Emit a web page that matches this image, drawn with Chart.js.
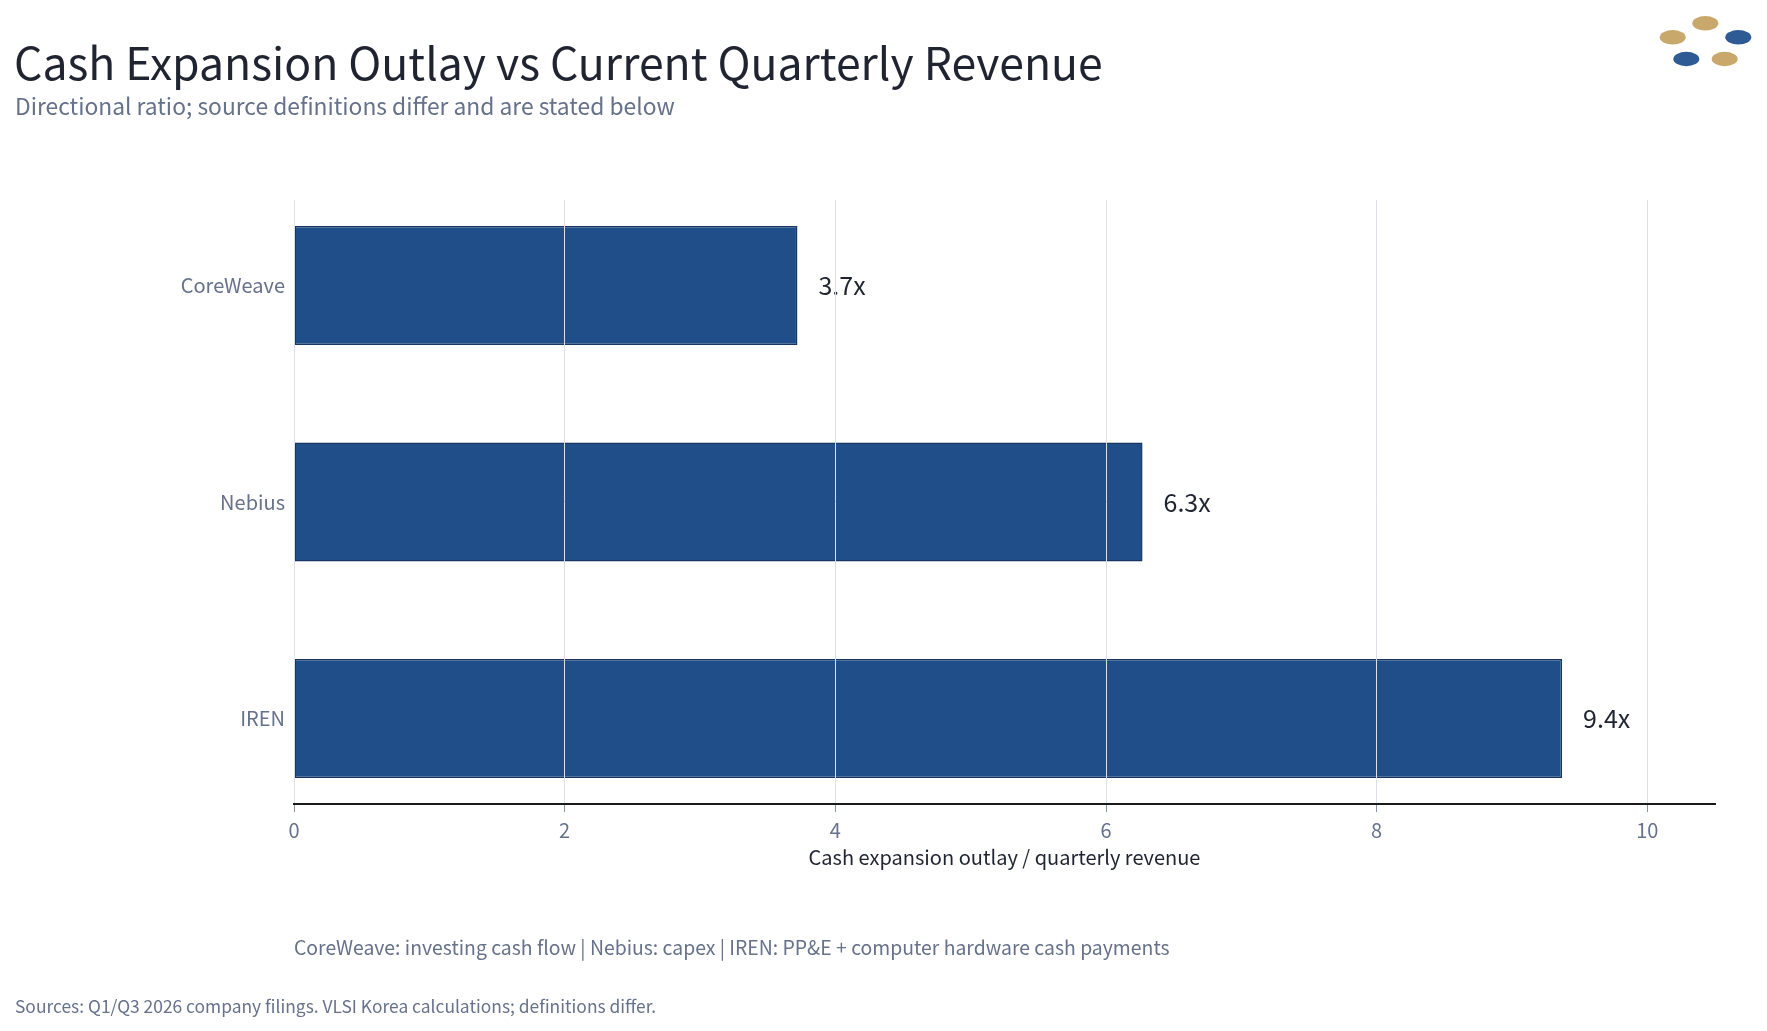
<!DOCTYPE html>
<html>
<head>
<meta charset="utf-8">
<script src="https://cdn.jsdelivr.net/npm/chart.js@4"></script>
<style>
  html, body { margin: 0; padding: 0; background: #ffffff; }
  #wrap { position: relative; width: 1767px; height: 1031px; overflow: hidden; font-family: "Noto Sans CJK KR", "Noto Sans", sans-serif; }
  #c { position: absolute; left: 0; top: 0; }
  .t { position: absolute; white-space: nowrap; line-height: 1; }
  #title { left: 14px; top: 39px; font-size: 44.5px; color: #1f2430; }
  #subtitle { left: 15px; top: 95px; font-size: 22.8px; color: #66718a; }
  #note { left: 294px; top: 937px; font-size: 19.4px; color: #66718a; }
  #src { left: 15px; top: 997px; font-size: 17.4px; color: #66718a; }
  #logo { position: absolute; left: 1640px; top: 0; }
</style>
</head>
<body>
<div id="wrap">
  <canvas id="c" width="1767" height="1031"></canvas>
  <div class="t" id="title">Cash Expansion Outlay vs Current Quarterly Revenue</div>
  <div class="t" id="subtitle">Directional ratio; source definitions differ and are stated below</div>
  <div class="t" id="note">CoreWeave: investing cash flow | Nebius: capex | IREN: PP&amp;E + computer hardware cash payments</div>
  <div class="t" id="src">Sources: Q1/Q3 2026 company filings. VLSI Korea calculations; definitions differ.</div>
  <svg id="logo" width="127" height="80" viewBox="0 0 127 80">
    <ellipse cx="65.3" cy="23.3" rx="13" ry="7.2" fill="#c9a96b"/>
    <ellipse cx="32.7" cy="37.3" rx="13" ry="7.2" fill="#c9a96b"/>
    <ellipse cx="98.3" cy="37.3" rx="13" ry="7.2" fill="#2f5b94"/>
    <ellipse cx="46.3" cy="59" rx="13" ry="7.2" fill="#2f5b94"/>
    <ellipse cx="84.7" cy="59" rx="13" ry="7.2" fill="#c9a96b"/>
  </svg>
</div>
<script>
const categories = ["CoreWeave", "Nebius", "IREN"];
const ratios = [3.72, 6.27, 9.37];
const xTicks = [0, 2, 4, 6, 8, 10];
const xAxisTitle = "Cash expansion outlay / quarterly revenue";

const FONT = '"Noto Sans CJK KR", "Noto Sans", sans-serif';

const valueLabels = {
  id: 'valueLabels',
  afterDatasetsDraw(chart) {
    const ctx = chart.ctx;
    const meta = chart.getDatasetMeta(0);
    ctx.save();
    ctx.font = '25px ' + FONT;
    ctx.fillStyle = '#1f2430';
    ctx.textAlign = 'left';
    ctx.textBaseline = 'middle';
    meta.data.forEach((bar, i) => {
      ctx.fillText(ratios[i].toFixed(1) + 'x', bar.x + 21, bar.y);
    });
    ctx.restore();
  }
};

new Chart(document.getElementById('c'), {
  type: 'bar',
  data: {
    datasets: [{
      data: categories.map((c, i) => ({ x: ratios[i], y: i })),
      backgroundColor: '#1f4e89',
      borderColor: '#173561',
      borderWidth: 1.5,
      borderSkipped: false,
      categoryPercentage: 1,
      barPercentage: 0.55
    }]
  },
  options: {
    indexAxis: 'y',
    responsive: false,
    animation: false,
    devicePixelRatio: 1,
    layout: { padding: { left: 0, right: 52, top: 200, bottom: 147 } },
    plugins: { legend: { display: false }, tooltip: { enabled: false } },
    scales: {
      x: {
        type: 'linear',
        position: 'bottom',
        min: 0,
        max: 10.5,
        afterBuildTicks(scale) { scale.ticks = xTicks.map(v => ({ value: v })); },
        afterFit(scale) { scale.height = 80; },
        ticks: {
          includeBounds: false,
          color: '#66718a',
          font: { family: FONT, size: 20 },
          padding: 6,
          maxRotation: 0
        },
        grid: {
          z: 1,
          color: '#dde1e7',
          lineWidth: 1,
          drawTicks: true,
          tickLength: 8,
          tickColor: '#8a93a3'
        },
        border: { display: true, color: '#1a1a1a', width: 2, z: 2 },
        title: {
          display: true,
          text: xAxisTitle,
          color: '#1f2430',
          font: { family: FONT, size: 20 },
          padding: { top: 0, bottom: 15 }
        }
      },
      y: {
        type: 'linear',
        reverse: true,
        offset: false,
        min: -0.395,
        max: 2.395,
        afterBuildTicks(scale) { scale.ticks = categories.map((c, i) => ({ value: i })); },
        afterFit(scale) { scale.width = 294; },
        ticks: {
          color: '#66718a',
          font: { family: FONT, size: 20 },
          padding: 9,
          callback: (v) => categories[v] ?? ''
        },
        grid: { display: false, drawTicks: false, offset: false },
        border: { display: false }
      }
    }
  },
  plugins: [valueLabels]
});
</script>
</body>
</html>
